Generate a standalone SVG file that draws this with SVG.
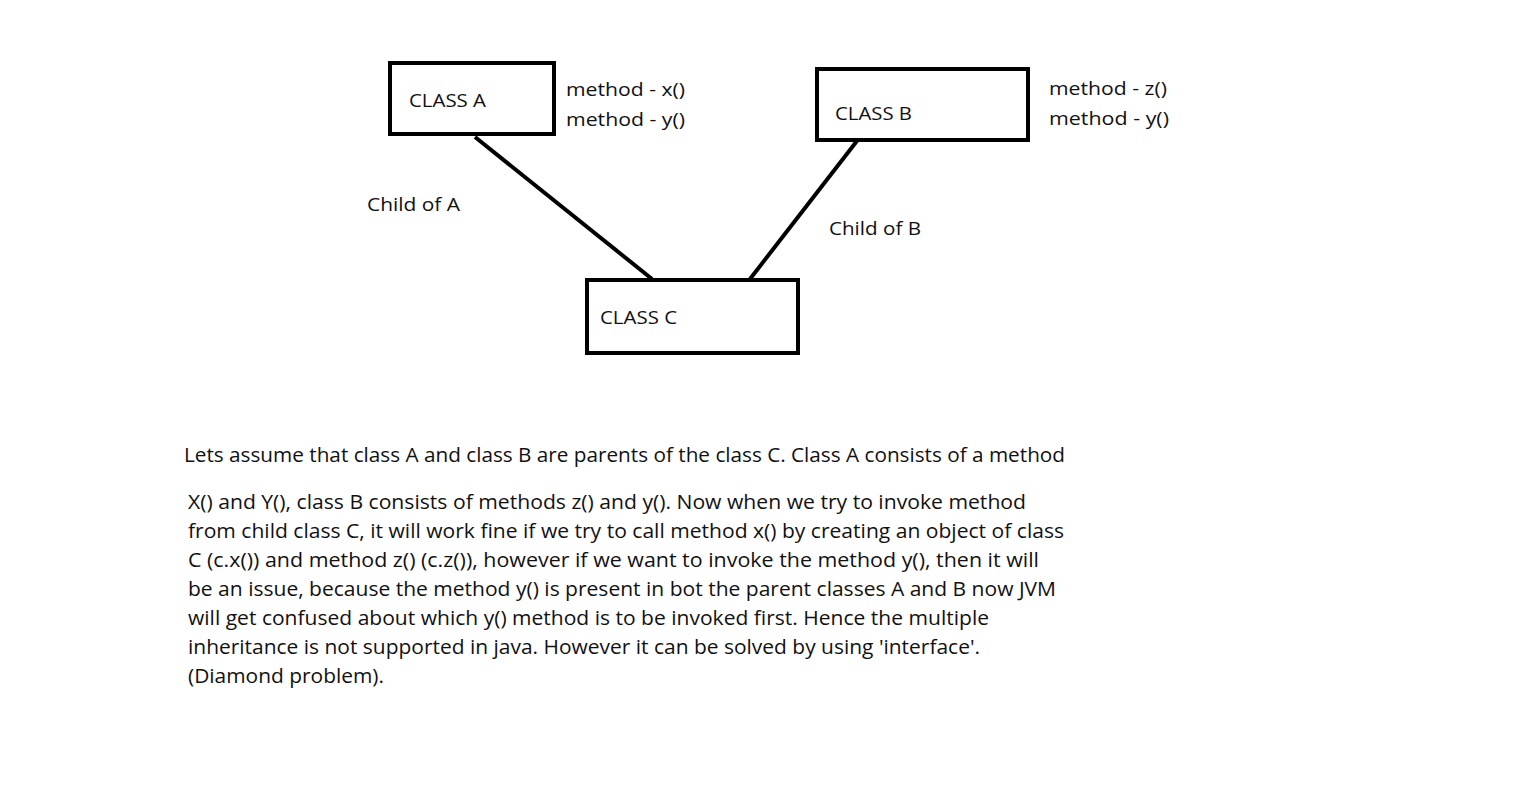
<svg xmlns="http://www.w3.org/2000/svg" width="1530" height="810" viewBox="0 0 1530 810">
<style>
.box{fill:#fff;stroke:#000;stroke-width:4}
.ln{stroke:#000;stroke-width:4;fill:none}
text{font-family:"Open Sans","Noto Sans",sans-serif;fill:#111}
.lb{font-size:18.5px}
.bd{font-size:19.5px}
</style>
<rect width="1530" height="810" fill="#fff"/>
<g id="connectors">
<line class="ln" x1="475" y1="137" x2="652" y2="279"/>
<line class="ln" x1="860" y1="137" x2="750" y2="279"/>
</g>
<g id="classA">
<rect class="box" x="390" y="63" width="164" height="71"/>
<text class="lb" x="409" y="107" textLength="77" lengthAdjust="spacingAndGlyphs">CLASS A</text>
</g>
<g id="methodsA">
<text class="lb" x="566" y="96" textLength="119" lengthAdjust="spacingAndGlyphs">method - x()</text>
<text class="lb" x="566" y="126" textLength="119" lengthAdjust="spacingAndGlyphs">method - y()</text>
</g>
<g id="classB">
<rect class="box" x="817" y="69" width="211" height="71"/>
<text class="lb" x="835" y="120" textLength="77" lengthAdjust="spacingAndGlyphs">CLASS B</text>
</g>
<g id="methodsB">
<text class="lb" x="1049" y="95" textLength="118" lengthAdjust="spacingAndGlyphs">method - z()</text>
<text class="lb" x="1049" y="125" textLength="120" lengthAdjust="spacingAndGlyphs">method - y()</text>
</g>
<g id="classC">
<rect class="box" x="587" y="280" width="211" height="73"/>
<text class="lb" x="600" y="324" textLength="77" lengthAdjust="spacingAndGlyphs">CLASS C</text>
</g>
<g id="labels">
<text class="lb" x="367" y="211" textLength="93" lengthAdjust="spacingAndGlyphs">Child of A</text>
<text class="lb" x="829" y="235" textLength="92" lengthAdjust="spacingAndGlyphs">Child of B</text>
</g>
<g id="description">
<text class="bd" x="184" y="462" textLength="881" lengthAdjust="spacingAndGlyphs">Lets assume that class A and class B are parents of the class C. Class A consists of a method</text>
<text class="bd" x="188" y="509" textLength="838" lengthAdjust="spacingAndGlyphs">X() and Y(), class B consists of methods z() and y(). Now when we try to invoke method</text>
<text class="bd" x="188" y="538" textLength="876" lengthAdjust="spacingAndGlyphs">from child class C, it will work fine if we try to call method x() by creating an object of class</text>
<text class="bd" x="188" y="567" textLength="851" lengthAdjust="spacingAndGlyphs">C (c.x()) and method z() (c.z()), however if we want to invoke the method y(), then it will</text>
<text class="bd" x="188" y="596" textLength="868" lengthAdjust="spacingAndGlyphs">be an issue, because the method y() is present in bot the parent classes A and B now JVM</text>
<text class="bd" x="188" y="625" textLength="801" lengthAdjust="spacingAndGlyphs">will get confused about which y() method is to be invoked first. Hence the multiple</text>
<text class="bd" x="188" y="654" textLength="792" lengthAdjust="spacingAndGlyphs">inheritance is not supported in java. However it can be solved by using 'interface'.</text>
<text class="bd" x="188" y="683" textLength="196" lengthAdjust="spacingAndGlyphs">(Diamond problem).</text>
</g>
</svg>
